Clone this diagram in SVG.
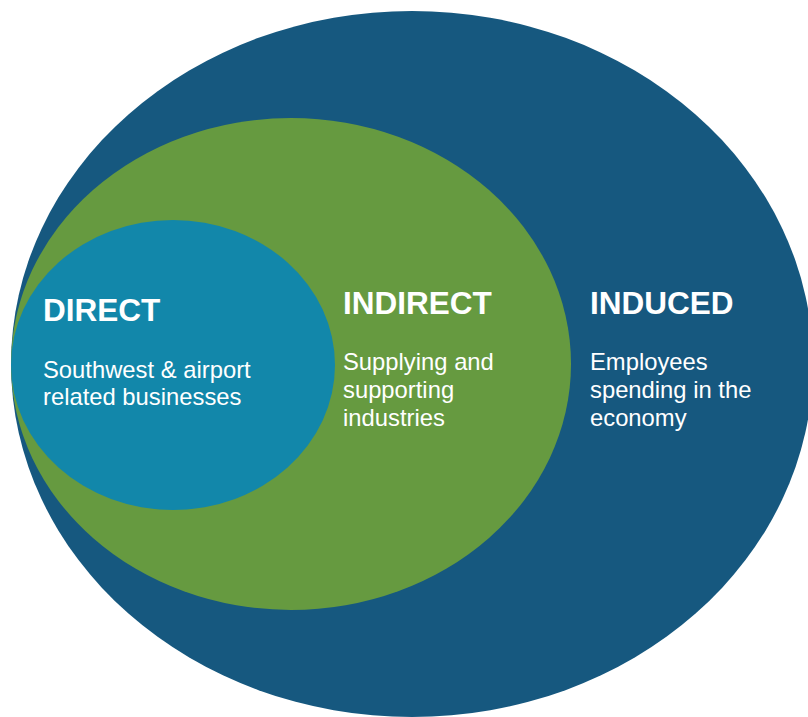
<svg xmlns="http://www.w3.org/2000/svg" width="808" height="717" viewBox="0 0 808 717">
<style>
.h{font-family:"Liberation Sans",Arial,sans-serif;font-weight:bold;font-size:31.5px;fill:#fff}
.t{font-family:"Liberation Sans",Arial,sans-serif;font-size:23.8px;fill:#fff}
</style>
<rect width="808" height="717" fill="#fff"/>
<g id="induced">
<ellipse cx="412" cy="364" rx="401" ry="353" fill="#16587F"/>
<text class="h" x="590" y="314">INDUCED</text>
<text class="t" x="590" y="370">Employees</text>
<text class="t" x="590" y="398">spending in the</text>
<text class="t" x="590" y="426">economy</text>
</g>
<g id="indirect">
<ellipse cx="291" cy="364" rx="280" ry="246" fill="#669A40"/>
<text class="h" x="343" y="314">INDIRECT</text>
<text class="t" x="343" y="370">Supplying and</text>
<text class="t" x="343" y="398">supporting</text>
<text class="t" x="343" y="426">industries</text>
</g>
<g id="direct">
<ellipse cx="173" cy="365" rx="162" ry="145" fill="#1287AA"/>
<text class="h" x="43" y="321">DIRECT</text>
<text class="t" x="43" y="378">Southwest &amp; airport</text>
<text class="t" x="43" y="405">related businesses</text>
</g>
<g id="connectors"/>
</svg>
